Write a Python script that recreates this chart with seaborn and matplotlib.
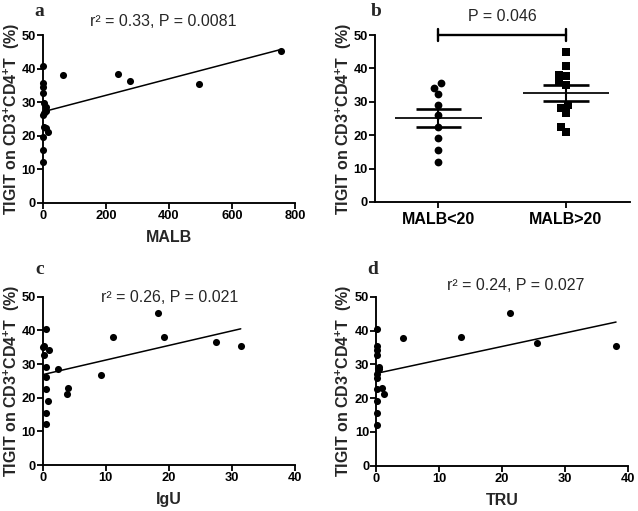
import numpy as np
import pandas as pd
import matplotlib
matplotlib.use("Agg")
import matplotlib.pyplot as plt
import seaborn as sns

# ---- data ----
malb = [2, 2, 2, 2, 4, 10, 3, 12, 1, 5, 12, 17, 1, 1, 1, 63, 240, 277, 497, 757]
tigit_a = [40.7, 35.6, 34.4, 32.6, 29.6, 28.4, 26.8, 27.4, 26.0, 22.7, 22.4, 21.2, 19.5, 15.7, 12.2,
           38.1, 38.5, 36.4, 35.3, 45.1]

group_low = [34.2, 35.5, 32.2, 29.1, 26.0, 22.6, 19.2, 15.5, 12.0]
group_high = [45.0, 40.6, 38.1, 37.6, 35.9, 35.0, 29.0, 28.1, 26.5, 22.6, 21.0]
group_names = ["MALB<20", "MALB>20"]

igu = [0.53, 0.26, 1.06, 0.26, 0.53, 2.5, 0.53, 9.2, 0.53, 4.07, 3.8, 0.8, 0.53, 0.53,
       11.2, 18.3, 19.2, 27.5, 31.4, 0.1]
tigit_c = [40.4, 35.4, 34.3, 32.7, 29.2, 28.6, 26.1, 26.6, 22.5, 22.8, 21.1, 19.1, 15.5, 12.2,
           37.9, 45.2, 38.1, 36.4, 35.4, 35.0]

tru = [0.16, 0.16, 0.16, 0.16, 0.37, 0.37, 0.16, 0.16, 0.16, 0.9, 1.3, 0.16, 0.16, 0.16,
       4.24, 13.4, 21.3, 25.5, 38.1, 0.3]
tigit_d = [40.4, 35.5, 34.3, 32.7, 29.2, 28.5, 27.2, 26.0, 22.6, 22.9, 21.1, 19.0, 15.5, 12.1,
           37.9, 38.1, 45.2, 36.4, 35.4, 29.0]

stats_a = "r² = 0.33, P = 0.0081"
stats_b = "P = 0.046"
stats_c = "r² = 0.26, P = 0.021"
stats_d = "r² = 0.24, P = 0.027"
ylabel = r"TIGIT on CD3$^{+}$CD4$^{+}$T  (%)"

# ---- style ----
sns.set_style("ticks")
plt.rcParams["font.family"] = ["Liberation Sans", "DejaVu Sans"]
plt.rcParams["font.weight"] = "bold"
plt.rcParams["mathtext.fontset"] = "custom"
plt.rcParams["mathtext.rm"] = "Liberation Sans:bold"
plt.rcParams["mathtext.bf"] = "Liberation Sans:bold"
plt.rcParams["mathtext.default"] = "bf"

W, H = 638, 511
fig = plt.figure(figsize=(W / 100, H / 100), dpi=100)

def ax_px(l, r, t, b):
    return fig.add_axes([l / W, 1 - b / H, (r - l) / W, (b - t) / H])

axa = ax_px(42.7, 295, 35, 202.7)
axb = ax_px(374.7, 629.7, 35, 202)
axc = ax_px(42.7, 295, 296.7, 465)
axd = ax_px(376.3, 628, 296.7, 465.7)

def style(ax, xlab, ylx, xly):
    for s in ["top", "right"]:
        ax.spines[s].set_visible(False)
    for s in ["left", "bottom"]:
        ax.spines[s].set_linewidth(1.35)
        ax.spines[s].set_color("black")
    ax.tick_params(axis="both", direction="out", length=4, width=1.3, labelsize=9.3, pad=1,
                   colors="black")
    ax.set_ylim(0, 50)
    ax.set_yticks([0, 10, 20, 30, 40, 50])
    ax.set_ylabel(ylabel, fontsize=11.5, fontweight="bold")
    ax.yaxis.set_label_coords(ylx, 0.5)
    ax.yaxis.label.set_va("center")
    ax.set_xlabel(xlab, fontsize=11.5, fontweight="bold")
    ax.xaxis.set_label_coords(0.5, xly)
    ax.xaxis.label.set_va("center")

def scatter_panel(ax, x, y, xmax, xticks, xlab, txt, tpos, ylx):
    sns.regplot(x=np.array(x, float), y=np.array(y, float), ax=ax, ci=None, truncate=True,
                color="black", scatter_kws=dict(s=26, linewidths=0, alpha=1, clip_on=False),
                line_kws=dict(lw=1.1, color="black"))
    ax.set_xlim(0, xmax)
    ax.set_xticks(xticks)
    style(ax, xlab, ylx, -0.205)
    ax.text(tpos[0], tpos[1], txt, transform=ax.transAxes, ha="center", va="center",
            fontsize=11.5, fontweight="normal")

scatter_panel(axa, malb, tigit_a, 800, [0, 200, 400, 600, 800], "MALB", stats_a, (0.477, 1.079), -0.122)
scatter_panel(axc, igu, tigit_c, 40, [0, 10, 20, 30, 40], "IgU", stats_c, (0.505, 0.994), -0.122)
scatter_panel(axd, tru, tigit_d, 40, [0, 10, 20, 30, 40], "TRU", stats_d, (0.553, 1.069), -0.128)

# panel b
df_low = pd.DataFrame({"g": group_names[0], "v": group_low})
df_high = pd.DataFrame({"g": group_names[1], "v": group_high})
sns.swarmplot(data=df_low, x="g", y="v", order=group_names, marker="o", color="black",
              size=5.6, ax=axb)
sns.swarmplot(data=df_high, x="g", y="v", order=group_names, marker="s", color="black",
              size=5.2, ax=axb)
for i, vals in enumerate([group_low, group_high]):
    m = np.mean(vals)
    se = np.std(vals, ddof=1) / np.sqrt(len(vals))
    axb.hlines(m, i - 0.34, i + 0.34, color="black", lw=1.25, zorder=5)
    axb.hlines([m - se, m + se], i - 0.18, i + 0.18, color="black", lw=1.9, zorder=5)
    axb.vlines(i, m - se, m + se, color="black", lw=1.5, zorder=5)
axb.set_xlim(-0.5, 1.5)
style(axb, "", -0.12, -0.2)
axb.tick_params(axis="x", labelsize=11.5, pad=3)
axb.plot([0, 1], [50, 50], color="black", lw=1.7, clip_on=False)
axb.plot([0, 0], [48.2, 51.8], color="black", lw=1.7, clip_on=False)
axb.plot([1, 1], [48.2, 51.8], color="black", lw=1.7, clip_on=False)
axb.text(0.5, 55.5, stats_b, ha="center", va="center", fontsize=11.5, fontweight="normal")

# panel letters
for lab, (px, py) in zip("abcd", [(39, 12), (376, 12), (40, 270), (373, 270)]):
    fig.text(px / W, 1 - py / H, lab, ha="center", va="center", fontsize=14,
             fontweight="bold", family="Liberation Serif")

fig.savefig("out.png", dpi=100)
